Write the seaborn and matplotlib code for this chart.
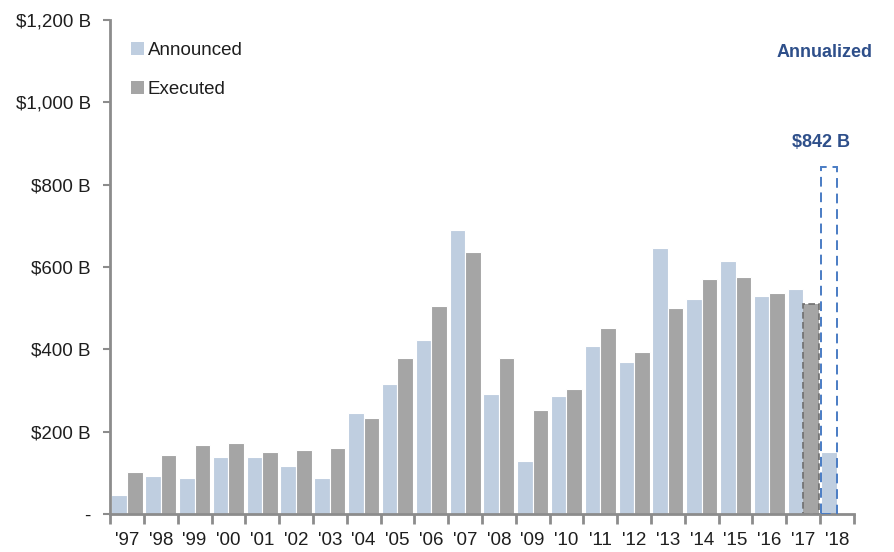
import matplotlib
matplotlib.use("Agg")
import matplotlib.pyplot as plt
from matplotlib.patches import Rectangle
from matplotlib.ticker import FixedLocator, FuncFormatter
import seaborn as sns
import pandas as pd

# Buyback volumes by year ($B)
years = ["'97", "'98", "'99", "'00", "'01", "'02", "'03", "'04", "'05", "'06", "'07",
         "'08", "'09", "'10", "'11", "'12", "'13", "'14", "'15", "'16", "'17", "'18"]
announced = [46, 91, 87, 138, 138, 117, 87, 246, 315, 422, 690,
             291, 128, 286, 407, 368, 647, 522, 614, 529, 547, 150]
executed = [102, 142, 167, 172, 150, 156, 159, 234, 378, 504, 636,
            378, 252, 303, 451, 394, 501, 570, 576, 537, 510, None]
annualized_2018 = 842

df = pd.DataFrame({
    "year": years * 2,
    "value": announced + executed,
    "type": ["Announced"] * len(years) + ["Executed"] * len(years),
})

sns.set_style("white")
plt.rcParams["font.family"] = ["Liberation Sans", "DejaVu Sans"]

fig = plt.figure(figsize=(8.95, 5.52), dpi=100)
ax = fig.add_axes([0.123, 0.069, 0.831, 0.895])

sns.barplot(data=df, x="year", y="value", hue="type", order=years,
            hue_order=["Announced", "Executed"],
            palette={"Announced": "#B9CDE5", "Executed": "#A5A5A5"},
            width=0.92, edgecolor="white", linewidth=0.8, ax=ax, legend=True)

ax.set_xlim(-0.5, len(years) - 0.5)
ax.set_ylim(0, 1200)
ax.set_xlabel("")
ax.set_ylabel("")

text_color = "#1e1e1e"
fs = 13.5
for side in ["top", "right"]:
    ax.spines[side].set_visible(False)
for side in ["left", "bottom"]:
    ax.spines[side].set_color("#8c8c8c")
    ax.spines[side].set_linewidth(2)

# y axis
ax.yaxis.set_major_locator(FixedLocator(range(0, 1201, 200)))
ax.yaxis.set_major_formatter(FuncFormatter(
    lambda v, p: "-" if v == 0 else f"${v:,.0f} B"))
ax.tick_params(axis="y", which="major", length=5, width=1.5, color="#8c8c8c",
               labelsize=fs, labelcolor=text_color, left=True, pad=9)

# x axis: labels centred per year, tick marks at the year boundaries
ax.set_xticks(range(len(years)))
ax.set_xticklabels(years)
ax.tick_params(axis="x", which="major", length=0, labelsize=fs,
               labelcolor=text_color, pad=13)
ax.set_xticks([i - 0.5 for i in range(len(years) + 1)], minor=True)
ax.tick_params(axis="x", which="minor", length=7, width=2, color="#8c8c8c",
               bottom=True)

# locate bars by hue container
ann_bars = ax.containers[0]
exe_bars = ax.containers[1]

# 2017 executed is an estimate: dashed outline
b17 = exe_bars[years.index("'17")]
b17.set_edgecolor("#6e6e6e")
b17.set_linestyle((0, (4, 2)))
b17.set_linewidth(1.2)

# 2018 annualized announcements: dashed box
b18 = ann_bars[years.index("'18")]
ax.add_patch(Rectangle((b18.get_x(), 0), b18.get_width(), annualized_2018,
                       fill=False, edgecolor="#4A7CC4", linestyle=(0, (5, 3)),
                       linewidth=1.4, zorder=5))
cx = b18.get_x() + b18.get_width() / 2
ax.text(cx - 0.25, annualized_2018 + 40, f"${annualized_2018} B", ha="center",
        va="bottom", fontsize=13, fontweight="bold", color="#2E4F8A")
ax.text(cx - 0.15, 1120, "Annualized", ha="center", va="center",
        fontsize=13, fontweight="bold", color="#2E4F8A", clip_on=False)

leg = ax.legend(loc="upper left", bbox_to_anchor=(0.018, 0.97), frameon=False,
                fontsize=fs, handlelength=0.7, handleheight=0.7,
                handletextpad=0.2, labelspacing=1.15, borderaxespad=0)
for t in leg.get_texts():
    t.set_color(text_color)
for h in leg.legend_handles:
    h.set_edgecolor("none")

fig.savefig("out.png", dpi=100, facecolor="white")
